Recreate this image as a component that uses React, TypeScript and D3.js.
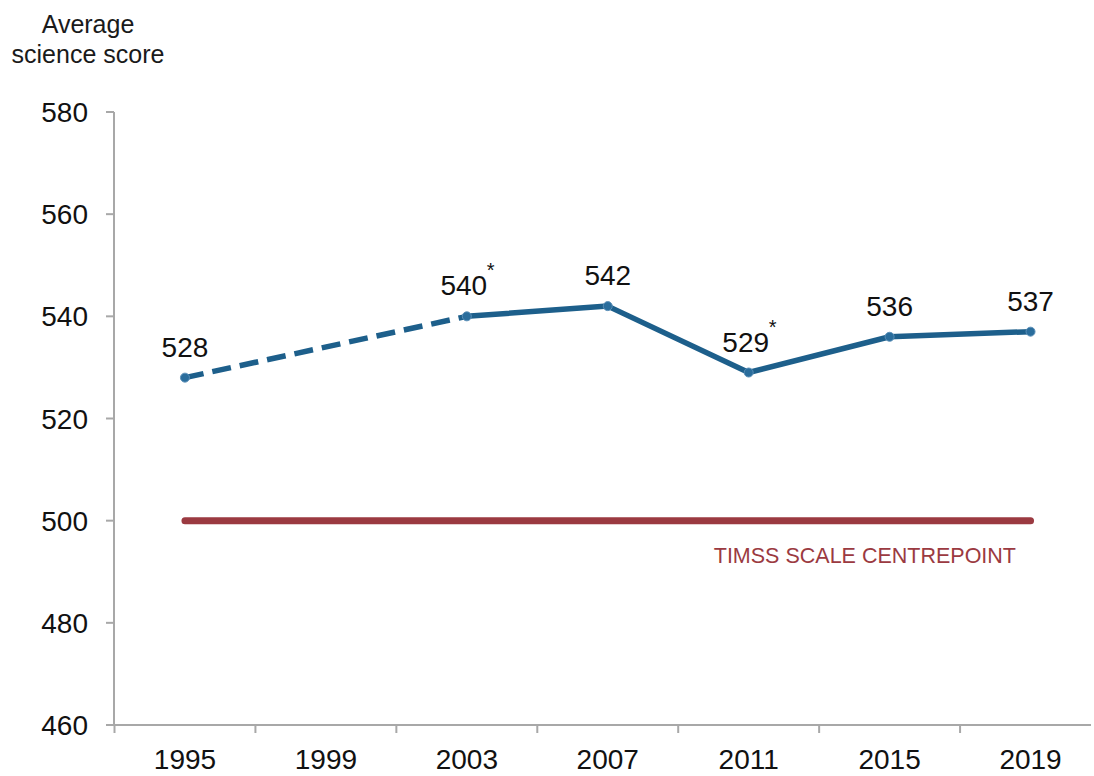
import React from "react";
import * as d3 from "d3";

const years = ["1995", "1999", "2003", "2007", "2011", "2015", "2019"];
const scores: (number | null)[] = [528, null, 540, 542, 529, 536, 537];
const significant = [false, false, true, false, true, false, false];
const yTicks = [460, 480, 500, 520, 540, 560, 580];
const centrepoint = 500;
const centrepointLabel = "TIMSS SCALE CENTREPOINT";
const titleLines = ["Average", "science score"];

const W = 1094;
const H = 776;
const FONT = "'Liberation Sans', Arial, Helvetica, sans-serif";
const BLUE = "#1d5f8b";
const RED = "#9b3a41";
const GREY = "#a8a8a8";

export default function App() {
  const x = d3.scaleBand<string>().domain(years).range([114.5, 1101]).padding(0);
  const y = d3.scaleLinear().domain([460, 580]).range([725, 112]);
  const cx = (yr: string) => (x(yr) as number) + x.bandwidth() / 2;

  const pts = years
    .map((yr, i) => ({ yr, v: scores[i], sig: significant[i] }))
    .filter((p) => p.v !== null) as { yr: string; v: number; sig: boolean }[];

  const line = d3
    .line<{ yr: string; v: number }>()
    .x((d) => cx(d.yr))
    .y((d) => y(d.v));

  const dashedPts = pts.filter((p) => +p.yr <= 2003);
  const solidPts = pts.filter((p) => +p.yr >= 2003);

  const axisX0 = 114;
  const first = years[0];
  const last = years[years.length - 1];

  return (
    <svg width={W} height={H} style={{ position: "absolute", left: 0, top: 0, background: "#fff" }} fontFamily={FONT}>
      {/* title */}
      {titleLines.map((t, i) => (
        <text key={i} x={88} y={33 + i * 30} textAnchor="middle" fontSize={25} fill="#1a1a1a">
          {t}
        </text>
      ))}

      {/* y axis */}
      <line x1={axisX0} x2={axisX0} y1={y(580)} y2={y(460)} stroke={GREY} strokeWidth={2} />
      {yTicks.map((t) => (
        <g key={t}>
          <line x1={axisX0 - 8} x2={axisX0} y1={y(t)} y2={y(t)} stroke={GREY} strokeWidth={2} />
          <text x={88} y={y(t)} dy="0.36em" textAnchor="end" fontSize={28} fill="#111">
            {t}
          </text>
        </g>
      ))}

      {/* x axis */}
      <line x1={axisX0 - 8} x2={1091} y1={y(460)} y2={y(460)} stroke={GREY} strokeWidth={2} />
      {years.map((yr) => (
        <g key={yr}>
          <line x1={x(yr) as number} x2={x(yr) as number} y1={y(460)} y2={y(460) + 8} stroke={GREY} strokeWidth={2} />
          <text x={cx(yr)} y={769} textAnchor="middle" fontSize={28} fill="#111">
            {yr}
          </text>
        </g>
      ))}

      {/* centrepoint line */}
      <line
        x1={cx(first)}
        x2={cx(last)}
        y1={y(centrepoint)}
        y2={y(centrepoint)}
        stroke={RED}
        strokeWidth={7}
        strokeLinecap="round"
      />
      <text x={1016} y={563} textAnchor="end" fontSize={21.5} fill={RED}>
        {centrepointLabel}
      </text>

      {/* score line */}
      <path d={line(dashedPts) || ""} fill="none" stroke={BLUE} strokeWidth={5.5} strokeDasharray="19 9" />
      <path d={line(solidPts) || ""} fill="none" stroke={BLUE} strokeWidth={5.5} strokeLinejoin="round" />
      {pts.map((p) => (
        <circle key={p.yr} cx={cx(p.yr)} cy={y(p.v)} r={4.5} fill="#2a6d9c" stroke="#5a8fb8" strokeWidth={1} />
      ))}

      {/* value labels */}
      {pts.map((p) => (
        <g key={"l" + p.yr}>
          <text
            x={cx(p.yr) - (p.sig ? 3 : 0)}
            y={y(p.v) - 21}
            textAnchor="middle"
            fontSize={28}
            fill="#111"
          >
            {p.v}
          </text>
          {p.sig && (
            <text x={cx(p.yr) + 20} y={y(p.v) - 39} textAnchor="start" fontSize={20} fill="#111">
              *
            </text>
          )}
        </g>
      ))}
    </svg>
  );
}
